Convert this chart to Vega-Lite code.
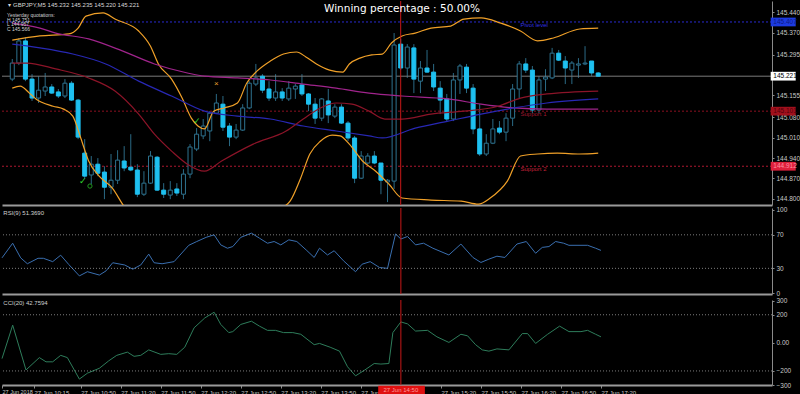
{
"$schema": "https://vega.github.io/schema/vega-lite/v6.json",
"background": "#000000",
"padding": 0,
"spacing": 0,
"config": {
  "view": {"stroke": null},
  "axis": {"labelFont": "Liberation Sans", "labelFontSize": 6.5, "labelColor": "#c8c8c8", "tickColor": "#8a8a8a", "domainColor": "#8a8a8a", "grid": false, "title": null, "labelOverlap": false, "labelFlush": false},
  "text": {"font": "Liberation Sans"}
},
"datasets": {
  "candles": [
    {"t":"2018-06-27T09:55:00Z","o":145.211,"h":145.280,"l":145.204,"c":145.266},
    {"t":"2018-06-27T10:00:00Z","o":145.266,"h":145.352,"l":145.259,"c":145.342},
    {"t":"2018-06-27T10:05:00Z","o":145.342,"h":145.355,"l":145.204,"c":145.211},
    {"t":"2018-06-27T10:10:00Z","o":145.211,"h":145.228,"l":145.136,"c":145.146},
    {"t":"2018-06-27T10:15:00Z","o":145.146,"h":145.221,"l":145.129,"c":145.173},
    {"t":"2018-06-27T10:20:00Z","o":145.170,"h":145.232,"l":145.153,"c":145.184},
    {"t":"2018-06-27T10:25:00Z","o":145.184,"h":145.194,"l":145.160,"c":145.163},
    {"t":"2018-06-27T10:30:00Z","o":145.167,"h":145.177,"l":145.146,"c":145.153},
    {"t":"2018-06-27T10:35:00Z","o":145.153,"h":145.211,"l":145.146,"c":145.197},
    {"t":"2018-06-27T10:40:00Z","o":145.197,"h":145.204,"l":145.136,"c":145.139},
    {"t":"2018-06-27T10:45:00Z","o":145.139,"h":145.143,"l":145.005,"c":145.012},
    {"t":"2018-06-27T10:50:00Z","o":144.957,"h":145.005,"l":144.868,"c":144.878},
    {"t":"2018-06-27T10:55:00Z","o":144.882,"h":144.947,"l":144.851,"c":144.919},
    {"t":"2018-06-27T11:00:00Z","o":144.919,"h":144.940,"l":144.878,"c":144.888},
    {"t":"2018-06-27T11:05:00Z","o":144.892,"h":144.912,"l":144.799,"c":144.840},
    {"t":"2018-06-27T11:10:00Z","o":144.840,"h":144.954,"l":144.816,"c":144.864},
    {"t":"2018-06-27T11:15:00Z","o":144.864,"h":144.967,"l":144.851,"c":144.933},
    {"t":"2018-06-27T11:20:00Z","o":144.930,"h":144.981,"l":144.895,"c":144.906},
    {"t":"2018-06-27T11:25:00Z","o":144.909,"h":145.022,"l":144.895,"c":144.899},
    {"t":"2018-06-27T11:30:00Z","o":144.899,"h":144.919,"l":144.806,"c":144.816},
    {"t":"2018-06-27T11:35:00Z","o":144.816,"h":144.895,"l":144.810,"c":144.854},
    {"t":"2018-06-27T11:40:00Z","o":144.854,"h":144.964,"l":144.851,"c":144.947},
    {"t":"2018-06-27T11:45:00Z","o":144.943,"h":144.947,"l":144.827,"c":144.830},
    {"t":"2018-06-27T11:50:00Z","o":144.830,"h":144.854,"l":144.803,"c":144.816},
    {"t":"2018-06-27T11:55:00Z","o":144.813,"h":144.861,"l":144.799,"c":144.830},
    {"t":"2018-06-27T12:00:00Z","o":144.834,"h":144.854,"l":144.810,"c":144.820},
    {"t":"2018-06-27T12:05:00Z","o":144.816,"h":144.902,"l":144.799,"c":144.885},
    {"t":"2018-06-27T12:10:00Z","o":144.885,"h":144.988,"l":144.871,"c":144.978},
    {"t":"2018-06-27T12:15:00Z","o":144.971,"h":145.043,"l":144.964,"c":145.022},
    {"t":"2018-06-27T12:20:00Z","o":145.016,"h":145.074,"l":145.005,"c":145.050},
    {"t":"2018-06-27T12:25:00Z","o":145.033,"h":145.101,"l":144.998,"c":145.094},
    {"t":"2018-06-27T12:30:00Z","o":145.094,"h":145.160,"l":145.091,"c":145.129},
    {"t":"2018-06-27T12:35:00Z","o":145.125,"h":145.153,"l":145.033,"c":145.046},
    {"t":"2018-06-27T12:40:00Z","o":145.050,"h":145.060,"l":144.981,"c":145.012},
    {"t":"2018-06-27T12:45:00Z","o":145.012,"h":145.057,"l":145.005,"c":145.036},
    {"t":"2018-06-27T12:50:00Z","o":145.036,"h":145.125,"l":145.033,"c":145.112},
    {"t":"2018-06-27T12:55:00Z","o":145.112,"h":145.204,"l":145.108,"c":145.197},
    {"t":"2018-06-27T13:00:00Z","o":145.194,"h":145.263,"l":145.187,"c":145.215},
    {"t":"2018-06-27T13:05:00Z","o":145.221,"h":145.228,"l":145.163,"c":145.173},
    {"t":"2018-06-27T13:10:00Z","o":145.177,"h":145.204,"l":145.136,"c":145.146},
    {"t":"2018-06-27T13:15:00Z","o":145.146,"h":145.228,"l":145.136,"c":145.167},
    {"t":"2018-06-27T13:20:00Z","o":145.167,"h":145.180,"l":145.136,"c":145.146},
    {"t":"2018-06-27T13:25:00Z","o":145.143,"h":145.204,"l":145.136,"c":145.180},
    {"t":"2018-06-27T13:30:00Z","o":145.177,"h":145.194,"l":145.143,"c":145.187},
    {"t":"2018-06-27T13:35:00Z","o":145.191,"h":145.228,"l":145.153,"c":145.160},
    {"t":"2018-06-27T13:40:00Z","o":145.160,"h":145.163,"l":145.101,"c":145.125},
    {"t":"2018-06-27T13:45:00Z","o":145.125,"h":145.146,"l":145.057,"c":145.077},
    {"t":"2018-06-27T13:50:00Z","o":145.077,"h":145.146,"l":145.067,"c":145.143},
    {"t":"2018-06-27T13:55:00Z","o":145.136,"h":145.177,"l":145.060,"c":145.088},
    {"t":"2018-06-27T14:00:00Z","o":145.084,"h":145.125,"l":145.077,"c":145.115},
    {"t":"2018-06-27T14:05:00Z","o":145.115,"h":145.125,"l":145.057,"c":145.060},
    {"t":"2018-06-27T14:10:00Z","o":145.060,"h":145.067,"l":144.998,"c":145.009},
    {"t":"2018-06-27T14:15:00Z","o":145.009,"h":145.016,"l":144.854,"c":144.871},
    {"t":"2018-06-27T14:20:00Z","o":144.871,"h":144.964,"l":144.868,"c":144.947},
    {"t":"2018-06-27T14:25:00Z","o":144.923,"h":144.957,"l":144.919,"c":144.947},
    {"t":"2018-06-27T14:30:00Z","o":144.947,"h":144.964,"l":144.919,"c":144.923},
    {"t":"2018-06-27T14:35:00Z","o":144.923,"h":144.923,"l":144.816,"c":144.864},
    {"t":"2018-06-27T14:40:00Z","o":144.858,"h":144.868,"l":144.789,"c":144.864},
    {"t":"2018-06-27T14:45:00Z","o":144.861,"h":145.369,"l":144.834,"c":145.328},
    {"t":"2018-06-27T14:50:00Z","o":145.331,"h":145.349,"l":145.242,"c":145.249},
    {"t":"2018-06-27T14:55:00Z","o":145.249,"h":145.331,"l":145.215,"c":145.321},
    {"t":"2018-06-27T15:00:00Z","o":145.318,"h":145.331,"l":145.163,"c":145.211},
    {"t":"2018-06-27T15:05:00Z","o":145.204,"h":145.273,"l":145.163,"c":145.249},
    {"t":"2018-06-27T15:10:00Z","o":145.249,"h":145.311,"l":145.232,"c":145.235},
    {"t":"2018-06-27T15:15:00Z","o":145.235,"h":145.263,"l":145.170,"c":145.184},
    {"t":"2018-06-27T15:20:00Z","o":145.180,"h":145.204,"l":145.091,"c":145.139},
    {"t":"2018-06-27T15:25:00Z","o":145.143,"h":145.160,"l":145.067,"c":145.074},
    {"t":"2018-06-27T15:30:00Z","o":145.074,"h":145.232,"l":145.067,"c":145.208},
    {"t":"2018-06-27T15:35:00Z","o":145.208,"h":145.263,"l":145.160,"c":145.256},
    {"t":"2018-06-27T15:40:00Z","o":145.252,"h":145.263,"l":145.163,"c":145.180},
    {"t":"2018-06-27T15:45:00Z","o":145.180,"h":145.194,"l":145.022,"c":145.040},
    {"t":"2018-06-27T15:50:00Z","o":145.040,"h":145.125,"l":144.947,"c":144.954},
    {"t":"2018-06-27T15:55:00Z","o":144.954,"h":145.022,"l":144.947,"c":144.991},
    {"t":"2018-06-27T16:00:00Z","o":144.991,"h":145.074,"l":144.988,"c":145.040},
    {"t":"2018-06-27T16:05:00Z","o":145.043,"h":145.067,"l":145.022,"c":145.029},
    {"t":"2018-06-27T16:10:00Z","o":145.029,"h":145.094,"l":144.998,"c":145.077},
    {"t":"2018-06-27T16:15:00Z","o":145.077,"h":145.194,"l":145.050,"c":145.177},
    {"t":"2018-06-27T16:20:00Z","o":145.177,"h":145.273,"l":145.146,"c":145.263},
    {"t":"2018-06-27T16:25:00Z","o":145.263,"h":145.283,"l":145.232,"c":145.242},
    {"t":"2018-06-27T16:30:00Z","o":145.242,"h":145.256,"l":145.094,"c":145.105},
    {"t":"2018-06-27T16:35:00Z","o":145.105,"h":145.221,"l":145.094,"c":145.208},
    {"t":"2018-06-27T16:40:00Z","o":145.211,"h":145.245,"l":145.170,"c":145.218},
    {"t":"2018-06-27T16:45:00Z","o":145.215,"h":145.318,"l":145.211,"c":145.300},
    {"t":"2018-06-27T16:50:00Z","o":145.300,"h":145.311,"l":145.273,"c":145.276},
    {"t":"2018-06-27T16:55:00Z","o":145.273,"h":145.290,"l":145.194,"c":145.249},
    {"t":"2018-06-27T17:00:00Z","o":145.242,"h":145.273,"l":145.194,"c":145.266},
    {"t":"2018-06-27T17:05:00Z","o":145.259,"h":145.283,"l":145.215,"c":145.263},
    {"t":"2018-06-27T17:10:00Z","o":145.263,"h":145.324,"l":145.259,"c":145.266},
    {"t":"2018-06-27T17:15:00Z","o":145.273,"h":145.273,"l":145.221,"c":145.232},
    {"t":"2018-06-27T17:20:00Z","o":145.232,"h":145.235,"l":145.220,"c":145.221}
  ],
  "ind": [
    {"s":"BB upper","t":"2018-06-27T09:55:00Z","v":145.345},
    {"s":"BB upper","t":"2018-06-27T10:16:00Z","v":145.359},
    {"s":"BB upper","t":"2018-06-27T10:38:00Z","v":145.366},
    {"s":"BB upper","t":"2018-06-27T10:45:00Z","v":145.386},
    {"s":"BB upper","t":"2018-06-27T10:51:00Z","v":145.427},
    {"s":"BB upper","t":"2018-06-27T11:04:00Z","v":145.438},
    {"s":"BB upper","t":"2018-06-27T11:13:00Z","v":145.417},
    {"s":"BB upper","t":"2018-06-27T11:31:00Z","v":145.376},
    {"s":"BB upper","t":"2018-06-27T11:40:00Z","v":145.324},
    {"s":"BB upper","t":"2018-06-27T11:46:00Z","v":145.263},
    {"s":"BB upper","t":"2018-06-27T11:56:00Z","v":145.211},
    {"s":"BB upper","t":"2018-06-27T12:04:00Z","v":145.146},
    {"s":"BB upper","t":"2018-06-27T12:11:00Z","v":145.077},
    {"s":"BB upper","t":"2018-06-27T12:16:00Z","v":145.050},
    {"s":"BB upper","t":"2018-06-27T12:21:00Z","v":145.040},
    {"s":"BB upper","t":"2018-06-27T12:28:00Z","v":145.101},
    {"s":"BB upper","t":"2018-06-27T12:36:00Z","v":145.112},
    {"s":"BB upper","t":"2018-06-27T12:46:00Z","v":145.129},
    {"s":"BB upper","t":"2018-06-27T12:53:00Z","v":145.197},
    {"s":"BB upper","t":"2018-06-27T13:01:00Z","v":145.239},
    {"s":"BB upper","t":"2018-06-27T13:11:00Z","v":145.273},
    {"s":"BB upper","t":"2018-06-27T13:21:00Z","v":145.297},
    {"s":"BB upper","t":"2018-06-27T13:31:00Z","v":145.304},
    {"s":"BB upper","t":"2018-06-27T13:38:00Z","v":145.287},
    {"s":"BB upper","t":"2018-06-27T13:46:00Z","v":145.263},
    {"s":"BB upper","t":"2018-06-27T13:56:00Z","v":145.242},
    {"s":"BB upper","t":"2018-06-27T14:06:00Z","v":145.235},
    {"s":"BB upper","t":"2018-06-27T14:11:00Z","v":145.263},
    {"s":"BB upper","t":"2018-06-27T14:19:00Z","v":145.283},
    {"s":"BB upper","t":"2018-06-27T14:28:00Z","v":145.294},
    {"s":"BB upper","t":"2018-06-27T14:36:00Z","v":145.297},
    {"s":"BB upper","t":"2018-06-27T14:43:00Z","v":145.335},
    {"s":"BB upper","t":"2018-06-27T14:51:00Z","v":145.359},
    {"s":"BB upper","t":"2018-06-27T15:01:00Z","v":145.369},
    {"s":"BB upper","t":"2018-06-27T15:13:00Z","v":145.386},
    {"s":"BB upper","t":"2018-06-27T15:28:00Z","v":145.393},
    {"s":"BB upper","t":"2018-06-27T15:38:00Z","v":145.417},
    {"s":"BB upper","t":"2018-06-27T15:51:00Z","v":145.421},
    {"s":"BB upper","t":"2018-06-27T16:06:00Z","v":145.403},
    {"s":"BB upper","t":"2018-06-27T16:21:00Z","v":145.376},
    {"s":"BB upper","t":"2018-06-27T16:34:00Z","v":145.342},
    {"s":"BB upper","t":"2018-06-27T16:46:00Z","v":145.352},
    {"s":"BB upper","t":"2018-06-27T17:06:00Z","v":145.383},
    {"s":"BB upper","t":"2018-06-27T17:20:00Z","v":145.386},
    {"s":"BB lower","t":"2018-06-27T09:55:00Z","v":145.180},
    {"s":"BB lower","t":"2018-06-27T10:01:00Z","v":145.187},
    {"s":"BB lower","t":"2018-06-27T10:08:00Z","v":145.163},
    {"s":"BB lower","t":"2018-06-27T10:13:00Z","v":145.143},
    {"s":"BB lower","t":"2018-06-27T10:26:00Z","v":145.118},
    {"s":"BB lower","t":"2018-06-27T10:34:00Z","v":145.108},
    {"s":"BB lower","t":"2018-06-27T10:41:00Z","v":145.084},
    {"s":"BB lower","t":"2018-06-27T10:47:00Z","v":145.009},
    {"s":"BB lower","t":"2018-06-27T10:53:00Z","v":144.930},
    {"s":"BB lower","t":"2018-06-27T11:01:00Z","v":144.878},
    {"s":"BB lower","t":"2018-06-27T11:11:00Z","v":144.837},
    {"s":"BB lower","t":"2018-06-27T11:21:00Z","v":144.768},
    {"s":"BB lower","t":"2018-06-27T11:28:00Z","v":144.741},
    {"s":"BB lower","t":"2018-06-27T11:51:00Z","v":144.706},
    {"s":"BB lower","t":"2018-06-27T12:21:00Z","v":144.696},
    {"s":"BB lower","t":"2018-06-27T12:51:00Z","v":144.717},
    {"s":"BB lower","t":"2018-06-27T13:10:00Z","v":144.751},
    {"s":"BB lower","t":"2018-06-27T13:19:00Z","v":144.768},
    {"s":"BB lower","t":"2018-06-27T13:26:00Z","v":144.792},
    {"s":"BB lower","t":"2018-06-27T13:34:00Z","v":144.871},
    {"s":"BB lower","t":"2018-06-27T13:41:00Z","v":144.954},
    {"s":"BB lower","t":"2018-06-27T13:49:00Z","v":144.998},
    {"s":"BB lower","t":"2018-06-27T13:58:00Z","v":145.019},
    {"s":"BB lower","t":"2018-06-27T14:04:00Z","v":145.016},
    {"s":"BB lower","t":"2018-06-27T14:11:00Z","v":144.988},
    {"s":"BB lower","t":"2018-06-27T14:21:00Z","v":144.930},
    {"s":"BB lower","t":"2018-06-27T14:31:00Z","v":144.895},
    {"s":"BB lower","t":"2018-06-27T14:41:00Z","v":144.851},
    {"s":"BB lower","t":"2018-06-27T14:51:00Z","v":144.803},
    {"s":"BB lower","t":"2018-06-27T15:13:00Z","v":144.796},
    {"s":"BB lower","t":"2018-06-27T15:36:00Z","v":144.792},
    {"s":"BB lower","t":"2018-06-27T15:49:00Z","v":144.782},
    {"s":"BB lower","t":"2018-06-27T15:58:00Z","v":144.803},
    {"s":"BB lower","t":"2018-06-27T16:11:00Z","v":144.861},
    {"s":"BB lower","t":"2018-06-27T16:21:00Z","v":144.947},
    {"s":"BB lower","t":"2018-06-27T16:34:00Z","v":144.954},
    {"s":"BB lower","t":"2018-06-27T16:49:00Z","v":144.957},
    {"s":"BB lower","t":"2018-06-27T17:06:00Z","v":144.954},
    {"s":"BB lower","t":"2018-06-27T17:20:00Z","v":144.957},
    {"s":"MA 1","t":"2018-06-27T09:55:00Z","v":145.403},
    {"s":"MA 1","t":"2018-06-27T10:16:00Z","v":145.386},
    {"s":"MA 1","t":"2018-06-27T10:28:00Z","v":145.369},
    {"s":"MA 1","t":"2018-06-27T10:53:00Z","v":145.349},
    {"s":"MA 1","t":"2018-06-27T11:19:00Z","v":145.307},
    {"s":"MA 1","t":"2018-06-27T11:43:00Z","v":145.263},
    {"s":"MA 1","t":"2018-06-27T12:08:00Z","v":145.232},
    {"s":"MA 1","t":"2018-06-27T12:21:00Z","v":145.221},
    {"s":"MA 1","t":"2018-06-27T12:46:00Z","v":145.215},
    {"s":"MA 1","t":"2018-06-27T13:11:00Z","v":145.208},
    {"s":"MA 1","t":"2018-06-27T13:36:00Z","v":145.194},
    {"s":"MA 1","t":"2018-06-27T14:01:00Z","v":145.180},
    {"s":"MA 1","t":"2018-06-27T14:26:00Z","v":145.163},
    {"s":"MA 1","t":"2018-06-27T14:51:00Z","v":145.153},
    {"s":"MA 1","t":"2018-06-27T15:26:00Z","v":145.143},
    {"s":"MA 1","t":"2018-06-27T15:51:00Z","v":145.125},
    {"s":"MA 1","t":"2018-06-27T16:16:00Z","v":145.112},
    {"s":"MA 1","t":"2018-06-27T16:41:00Z","v":145.108},
    {"s":"MA 1","t":"2018-06-27T17:20:00Z","v":145.108},
    {"s":"MA 2","t":"2018-06-27T09:55:00Z","v":145.331},
    {"s":"MA 2","t":"2018-06-27T10:16:00Z","v":145.318},
    {"s":"MA 2","t":"2018-06-27T10:41:00Z","v":145.297},
    {"s":"MA 2","t":"2018-06-27T11:06:00Z","v":145.263},
    {"s":"MA 2","t":"2018-06-27T11:31:00Z","v":145.204},
    {"s":"MA 2","t":"2018-06-27T11:56:00Z","v":145.153},
    {"s":"MA 2","t":"2018-06-27T12:21:00Z","v":145.101},
    {"s":"MA 2","t":"2018-06-27T12:46:00Z","v":145.084},
    {"s":"MA 2","t":"2018-06-27T13:11:00Z","v":145.074},
    {"s":"MA 2","t":"2018-06-27T13:36:00Z","v":145.050},
    {"s":"MA 2","t":"2018-06-27T14:01:00Z","v":145.033},
    {"s":"MA 2","t":"2018-06-27T14:26:00Z","v":145.016},
    {"s":"MA 2","t":"2018-06-27T14:36:00Z","v":145.009},
    {"s":"MA 2","t":"2018-06-27T15:01:00Z","v":145.043},
    {"s":"MA 2","t":"2018-06-27T15:26:00Z","v":145.067},
    {"s":"MA 2","t":"2018-06-27T15:51:00Z","v":145.091},
    {"s":"MA 2","t":"2018-06-27T16:16:00Z","v":145.112},
    {"s":"MA 2","t":"2018-06-27T16:41:00Z","v":145.129},
    {"s":"MA 2","t":"2018-06-27T17:20:00Z","v":145.143},
    {"s":"MA 3","t":"2018-06-27T09:55:00Z","v":145.266},
    {"s":"MA 3","t":"2018-06-27T10:06:00Z","v":145.266},
    {"s":"MA 3","t":"2018-06-27T10:28:00Z","v":145.246},
    {"s":"MA 3","t":"2018-06-27T10:53:00Z","v":145.215},
    {"s":"MA 3","t":"2018-06-27T11:13:00Z","v":145.170},
    {"s":"MA 3","t":"2018-06-27T11:31:00Z","v":145.091},
    {"s":"MA 3","t":"2018-06-27T11:43:00Z","v":145.022},
    {"s":"MA 3","t":"2018-06-27T11:56:00Z","v":144.964},
    {"s":"MA 3","t":"2018-06-27T12:08:00Z","v":144.919},
    {"s":"MA 3","t":"2018-06-27T12:21:00Z","v":144.895},
    {"s":"MA 3","t":"2018-06-27T12:34:00Z","v":144.930},
    {"s":"MA 3","t":"2018-06-27T12:58:00Z","v":144.988},
    {"s":"MA 3","t":"2018-06-27T13:23:00Z","v":145.033},
    {"s":"MA 3","t":"2018-06-27T13:36:00Z","v":145.074},
    {"s":"MA 3","t":"2018-06-27T13:49:00Z","v":145.112},
    {"s":"MA 3","t":"2018-06-27T14:01:00Z","v":145.129},
    {"s":"MA 3","t":"2018-06-27T14:13:00Z","v":145.125},
    {"s":"MA 3","t":"2018-06-27T14:26:00Z","v":145.101},
    {"s":"MA 3","t":"2018-06-27T14:38:00Z","v":145.074},
    {"s":"MA 3","t":"2018-06-27T14:51:00Z","v":145.074},
    {"s":"MA 3","t":"2018-06-27T15:13:00Z","v":145.091},
    {"s":"MA 3","t":"2018-06-27T15:38:00Z","v":145.101},
    {"s":"MA 3","t":"2018-06-27T16:04:00Z","v":145.118},
    {"s":"MA 3","t":"2018-06-27T16:21:00Z","v":145.146},
    {"s":"MA 3","t":"2018-06-27T16:41:00Z","v":145.160},
    {"s":"MA 3","t":"2018-06-27T17:20:00Z","v":145.170}
  ],
  "rsi": [
    {"t":"2018-06-27T09:51:00Z","v":42.5},{"t":"2018-06-27T09:59:00Z","v":60},{"t":"2018-06-27T10:05:00Z","v":42.5},
    {"t":"2018-06-27T10:10:00Z","v":35.5},{"t":"2018-06-27T10:18:00Z","v":42},{"t":"2018-06-27T10:22:00Z","v":42},
    {"t":"2018-06-27T10:29:00Z","v":38},{"t":"2018-06-27T10:35:00Z","v":45.7},{"t":"2018-06-27T10:41:00Z","v":34.7},
    {"t":"2018-06-27T10:49:00Z","v":21},{"t":"2018-06-27T10:55:00Z","v":26},{"t":"2018-06-27T11:04:00Z","v":22},
    {"t":"2018-06-27T11:09:00Z","v":27},{"t":"2018-06-27T11:14:00Z","v":36.7},{"t":"2018-06-27T11:23:00Z","v":34},
    {"t":"2018-06-27T11:29:00Z","v":29},{"t":"2018-06-27T11:35:00Z","v":34},{"t":"2018-06-27T11:41:00Z","v":47},
    {"t":"2018-06-27T11:45:00Z","v":36.7},{"t":"2018-06-27T11:51:00Z","v":35.5},{"t":"2018-06-27T12:00:00Z","v":38},
    {"t":"2018-06-27T12:11:00Z","v":57.5},{"t":"2018-06-27T12:17:00Z","v":62},{"t":"2018-06-27T12:24:00Z","v":67},
    {"t":"2018-06-27T12:30:00Z","v":70},{"t":"2018-06-27T12:35:00Z","v":58},{"t":"2018-06-27T12:40:00Z","v":54},
    {"t":"2018-06-27T12:44:00Z","v":56},{"t":"2018-06-27T12:50:00Z","v":67},{"t":"2018-06-27T12:58:00Z","v":72},
    {"t":"2018-06-27T13:04:00Z","v":66},{"t":"2018-06-27T13:10:00Z","v":60},{"t":"2018-06-27T13:15:00Z","v":62},
    {"t":"2018-06-27T13:20:00Z","v":58},{"t":"2018-06-27T13:26:00Z","v":64},{"t":"2018-06-27T13:32:00Z","v":62},
    {"t":"2018-06-27T13:39:00Z","v":52},{"t":"2018-06-27T13:45:00Z","v":43},{"t":"2018-06-27T13:49:00Z","v":54},
    {"t":"2018-06-27T13:55:00Z","v":46},{"t":"2018-06-27T14:00:00Z","v":51},{"t":"2018-06-27T14:07:00Z","v":39},
    {"t":"2018-06-27T14:16:00Z","v":26},{"t":"2018-06-27T14:21:00Z","v":35},{"t":"2018-06-27T14:27:00Z","v":38},
    {"t":"2018-06-27T14:34:00Z","v":31},{"t":"2018-06-27T14:40:00Z","v":30},{"t":"2018-06-27T14:46:00Z","v":71},
    {"t":"2018-06-27T14:50:00Z","v":65},{"t":"2018-06-27T14:55:00Z","v":68},{"t":"2018-06-27T15:01:00Z","v":58},
    {"t":"2018-06-27T15:07:00Z","v":60},{"t":"2018-06-27T15:14:00Z","v":54},{"t":"2018-06-27T15:26:00Z","v":46},
    {"t":"2018-06-27T15:35:00Z","v":59},{"t":"2018-06-27T15:44:00Z","v":43},{"t":"2018-06-27T15:50:00Z","v":37},
    {"t":"2018-06-27T15:56:00Z","v":41},{"t":"2018-06-27T16:02:00Z","v":44.5},{"t":"2018-06-27T16:08:00Z","v":43},
    {"t":"2018-06-27T16:17:00Z","v":59},{"t":"2018-06-27T16:24:00Z","v":62},{"t":"2018-06-27T16:31:00Z","v":48},
    {"t":"2018-06-27T16:36:00Z","v":55},{"t":"2018-06-27T16:41:00Z","v":56},{"t":"2018-06-27T16:46:00Z","v":62},
    {"t":"2018-06-27T16:52:00Z","v":60},{"t":"2018-06-27T16:56:00Z","v":57.5},{"t":"2018-06-27T17:10:00Z","v":57.5},
    {"t":"2018-06-27T17:16:00Z","v":54},{"t":"2018-06-27T17:20:00Z","v":51.4}
  ],
  "cci": [
    {"t":"2018-06-27T09:51:00Z","v":-112},{"t":"2018-06-27T09:59:00Z","v":126},{"t":"2018-06-27T10:09:00Z","v":-193},
    {"t":"2018-06-27T10:19:00Z","v":-105},{"t":"2018-06-27T10:24:00Z","v":-135},{"t":"2018-06-27T10:29:00Z","v":-135},
    {"t":"2018-06-27T10:35:00Z","v":-89},{"t":"2018-06-27T10:40:00Z","v":-105},{"t":"2018-06-27T10:49:00Z","v":-258},
    {"t":"2018-06-27T10:55:00Z","v":-216},{"t":"2018-06-27T11:04:00Z","v":-181},{"t":"2018-06-27T11:11:00Z","v":-128},
    {"t":"2018-06-27T11:17:00Z","v":-89},{"t":"2018-06-27T11:25:00Z","v":-66},{"t":"2018-06-27T11:30:00Z","v":-96},
    {"t":"2018-06-27T11:35:00Z","v":-89},{"t":"2018-06-27T11:41:00Z","v":-50},{"t":"2018-06-27T11:50:00Z","v":-82},
    {"t":"2018-06-27T11:56:00Z","v":-77},{"t":"2018-06-27T12:02:00Z","v":-82},{"t":"2018-06-27T12:08:00Z","v":-31},
    {"t":"2018-06-27T12:15:00Z","v":107},{"t":"2018-06-27T12:23:00Z","v":177},{"t":"2018-06-27T12:30:00Z","v":218},
    {"t":"2018-06-27T12:35:00Z","v":131},{"t":"2018-06-27T12:41:00Z","v":73},{"t":"2018-06-27T12:44:00Z","v":80},
    {"t":"2018-06-27T12:50:00Z","v":131},{"t":"2018-06-27T12:58:00Z","v":154},{"t":"2018-06-27T13:04:00Z","v":119},
    {"t":"2018-06-27T13:10:00Z","v":89},{"t":"2018-06-27T13:16:00Z","v":89},{"t":"2018-06-27T13:22:00Z","v":73},
    {"t":"2018-06-27T13:29:00Z","v":73},{"t":"2018-06-27T13:35:00Z","v":61},{"t":"2018-06-27T13:45:00Z","v":-13},
    {"t":"2018-06-27T13:49:00Z","v":-4},{"t":"2018-06-27T13:57:00Z","v":-31},{"t":"2018-06-27T14:04:00Z","v":-59},
    {"t":"2018-06-27T14:10:00Z","v":-170},{"t":"2018-06-27T14:16:00Z","v":-235},{"t":"2018-06-27T14:23:00Z","v":-193},
    {"t":"2018-06-27T14:30:00Z","v":-147},{"t":"2018-06-27T14:35:00Z","v":-151},{"t":"2018-06-27T14:41:00Z","v":-147},
    {"t":"2018-06-27T14:44:00Z","v":73},{"t":"2018-06-27T14:50:00Z","v":149},{"t":"2018-06-27T14:55:00Z","v":135},
    {"t":"2018-06-27T15:01:00Z","v":84},{"t":"2018-06-27T15:10:00Z","v":89},{"t":"2018-06-27T15:17:00Z","v":43},
    {"t":"2018-06-27T15:26:00Z","v":3},{"t":"2018-06-27T15:35:00Z","v":61},{"t":"2018-06-27T15:40:00Z","v":50},
    {"t":"2018-06-27T15:46:00Z","v":-13},{"t":"2018-06-27T15:51:00Z","v":-50},{"t":"2018-06-27T15:56:00Z","v":-59},
    {"t":"2018-06-27T16:02:00Z","v":-43},{"t":"2018-06-27T16:11:00Z","v":-50},{"t":"2018-06-27T16:21:00Z","v":66},
    {"t":"2018-06-27T16:25:00Z","v":66},{"t":"2018-06-27T16:31:00Z","v":-4},{"t":"2018-06-27T16:40:00Z","v":61},
    {"t":"2018-06-27T16:49:00Z","v":119},{"t":"2018-06-27T16:56:00Z","v":80},{"t":"2018-06-27T17:05:00Z","v":80},
    {"t":"2018-06-27T17:10:00Z","v":89},{"t":"2018-06-27T17:16:00Z","v":61},{"t":"2018-06-27T17:20:00Z","v":42.8}
  ]
},
"vconcat": [
  {
    "width": 770, "height": 204,
    "data": {"values": [{}]},
    "resolve": {"axis": {"x": "independent", "y": "independent"}},
    "layer": [
      {"data": {"name": "candles"}, "mark": {"type": "rule", "color": "#2b6a85", "strokeWidth": 1},
       "encoding": {
         "x": {"field": "t", "type": "temporal", "scale": {"type": "utc", "domain": [{"year":2018,"month":6,"date":27,"hours":9,"minutes":51,"utc":true},{"year":2018,"month":6,"date":27,"hours":19,"minutes":28,"seconds":12,"utc":true}]},
               "axis": {"orient": "bottom", "labels": false, "ticks": false, "domainWidth": 2, "domainColor": "#9a9a9a"}},
         "y": {"field": "l", "type": "quantitative", "scale": {"domain": [144.779, 145.479], "zero": false, "nice": false},
               "axis": {"orient": "right", "values": [144.8, 144.87, 144.94, 145.01, 145.08, 145.155, 145.295, 145.37, 145.44], "format": ".3f", "tickSize": 2, "labelPadding": 2, "labelOverlap": false}},
         "y2": {"field": "h"}
       }},
      {"mark": {"type": "rule", "color": "#2a2ad0", "strokeDash": [2, 2]}, "encoding": {"y": {"datum": 145.407, "axis": null}}},
      {"mark": {"type": "rule", "color": "#8c1020", "strokeDash": [2, 2]}, "encoding": {"y": {"datum": 145.101, "axis": null}}},
      {"mark": {"type": "rule", "color": "#b01830", "strokeDash": [2, 2]}, "encoding": {"y": {"datum": 144.912, "axis": null}}},
      {"mark": {"type": "rule", "color": "#7a7a7a"}, "encoding": {"y": {"datum": 145.221, "axis": null}}},
      {"data": {"name": "candles"}, "mark": {"type": "bar", "size": 4, "strokeWidth": 1},
       "encoding": {
         "x": {"field": "t", "type": "temporal", "axis": null},
         "y": {"field": "o", "type": "quantitative", "axis": null},
         "y2": {"field": "c"},
         "fill": {"condition": {"test": "datum.c < datum.o", "value": "#1ec0f0"}, "value": "#000000"},
         "stroke": {"condition": {"test": "datum.c < datum.o", "value": "#1ec0f0"}, "value": "#2e7390"}
       }},
      {"data": {"name": "ind"}, "mark": {"type": "line", "strokeWidth": 1.2, "interpolate": "monotone", "clip": true},
       "encoding": {
         "x": {"field": "t", "type": "temporal", "axis": null},
         "y": {"field": "v", "type": "quantitative", "axis": null},
         "color": {"field": "s", "type": "nominal", "legend": null,
                   "scale": {"domain": ["BB upper", "BB lower", "MA 1", "MA 2", "MA 3"], "range": ["#f0a028", "#f0a028", "#a0248c", "#2828b4", "#8c1428"]}}
       }},
      {"mark": {"type": "rule", "color": "#c81818", "strokeWidth": 1}, "encoding": {"x": {"datum": {"year":2018,"month":6,"date":27,"hours":14,"minutes":50,"utc":true}, "type": "temporal", "axis": null}}},
      {"mark": {"type": "text", "color": "#ffffff", "fontSize": 10.5, "font": "DejaVu Sans", "align": "center", "baseline": "middle"},
       "encoding": {"x": {"datum": {"year":2018,"month":6,"date":27,"hours":14,"minutes":51,"utc":true}, "type": "temporal", "axis": null}, "y": {"datum": 145.452, "axis": null}, "text": {"value": "Winning percentage : 50.00%"}}},
      {"mark": {"type": "text", "color": "#d8d8d8", "fontSize": 6, "align": "left", "baseline": "middle"},
       "encoding": {"x": {"datum": {"year":2018,"month":6,"date":27,"hours":9,"minutes":52,"utc":true}, "type": "temporal", "axis": null}, "y": {"datum": 145.465, "axis": null}, "text": {"value": "▾ GBPJPY,M5  145.232 145.235 145.220 145.221"}}},
      {"mark": {"type": "text", "color": "#d0d0d0", "fontSize": 5, "lineHeight": 4.6, "align": "left", "baseline": "top"},
       "encoding": {"x": {"datum": {"year":2018,"month":6,"date":27,"hours":9,"minutes":51,"utc":true}, "type": "temporal", "axis": null}, "y": {"datum": 145.438, "axis": null}, "text": {"value": ["Yesterday quotations:", "H 145.751", "L 144.957", "C 145.566"]}}},
      {"mark": {"type": "text", "color": "#3030e0", "fontSize": 6, "align": "left", "baseline": "middle"},
       "encoding": {"x": {"datum": {"year":2018,"month":6,"date":27,"hours":16,"minutes":21,"utc":true}, "type": "temporal", "axis": null}, "y": {"datum": 145.397, "axis": null}, "text": {"value": "Pivot level"}}},
      {"mark": {"type": "text", "color": "#a01830", "fontSize": 6, "align": "left", "baseline": "middle"},
       "encoding": {"x": {"datum": {"year":2018,"month":6,"date":27,"hours":16,"minutes":21,"utc":true}, "type": "temporal", "axis": null}, "y": {"datum": 145.091, "axis": null}, "text": {"value": "Support 1"}}},
      {"mark": {"type": "text", "color": "#c02038", "fontSize": 6, "align": "left", "baseline": "middle"},
       "encoding": {"x": {"datum": {"year":2018,"month":6,"date":27,"hours":16,"minutes":21,"utc":true}, "type": "temporal", "axis": null}, "y": {"datum": 144.902, "axis": null}, "text": {"value": "Support 2"}}},
      {"mark": {"type": "text", "color": "#30d830", "fontSize": 9, "align": "center", "baseline": "middle"},
       "encoding": {"x": {"datum": {"year":2018,"month":6,"date":27,"hours":10,"minutes":49,"utc":true}, "type": "temporal", "axis": null}, "y": {"datum": 144.861, "axis": null}, "text": {"value": "✓"}}},
      {"mark": {"type": "point", "shape": "circle", "size": 18, "filled": false, "color": "#30d830", "strokeWidth": 1},
       "encoding": {"x": {"datum": {"year":2018,"month":6,"date":27,"hours":10,"minutes":54,"utc":true}, "type": "temporal", "axis": null}, "y": {"datum": 144.844, "axis": null}}},
      {"mark": {"type": "text", "color": "#30d830", "fontSize": 9, "align": "center", "baseline": "middle"},
       "encoding": {"x": {"datum": {"year":2018,"month":6,"date":27,"hours":12,"minutes":15,"utc":true}, "type": "temporal", "axis": null}, "y": {"datum": 145.067, "axis": null}, "text": {"value": "✓"}}},
      {"mark": {"type": "text", "color": "#e8a030", "fontSize": 8, "align": "center", "baseline": "middle"},
       "encoding": {"x": {"datum": {"year":2018,"month":6,"date":27,"hours":12,"minutes":30,"utc":true}, "type": "temporal", "axis": null}, "y": {"datum": 145.194, "axis": null}, "text": {"value": "×"}}},
      {"mark": {"type": "rect", "color": "#1c3ae0", "clip": false},
       "encoding": {"x": {"datum": {"year":2018,"month":6,"date":27,"hours":19,"minutes":31,"utc":true}, "type": "temporal", "axis": null}, "x2": {"datum": {"year":2018,"month":6,"date":27,"hours":19,"minutes":50,"utc":true}},
                    "y": {"datum": 145.422, "axis": null}, "y2": {"datum": 145.392}}},
      {"mark": {"type": "rect", "color": "#ffffff", "clip": false},
       "encoding": {"x": {"datum": {"year":2018,"month":6,"date":27,"hours":19,"minutes":31,"utc":true}, "type": "temporal", "axis": null}, "x2": {"datum": {"year":2018,"month":6,"date":27,"hours":19,"minutes":50,"utc":true}},
                    "y": {"datum": 145.236, "axis": null}, "y2": {"datum": 145.206}}},
      {"mark": {"type": "rect", "color": "#a0101c", "clip": false},
       "encoding": {"x": {"datum": {"year":2018,"month":6,"date":27,"hours":19,"minutes":31,"utc":true}, "type": "temporal", "axis": null}, "x2": {"datum": {"year":2018,"month":6,"date":27,"hours":19,"minutes":50,"utc":true}},
                    "y": {"datum": 145.116, "axis": null}, "y2": {"datum": 145.086}}},
      {"mark": {"type": "rect", "color": "#e0203c", "clip": false},
       "encoding": {"x": {"datum": {"year":2018,"month":6,"date":27,"hours":19,"minutes":31,"utc":true}, "type": "temporal", "axis": null}, "x2": {"datum": {"year":2018,"month":6,"date":27,"hours":19,"minutes":50,"utc":true}},
                    "y": {"datum": 144.927, "axis": null}, "y2": {"datum": 144.897}}},
      {"mark": {"type": "text", "color": "#0c1a80", "fontSize": 6.5, "align": "left", "baseline": "middle", "clip": false},
       "encoding": {"x": {"datum": {"year":2018,"month":6,"date":27,"hours":19,"minutes":33,"utc":true}, "type": "temporal", "axis": null}, "y": {"datum": 145.407, "axis": null}, "text": {"value": "145.407"}}},
      {"mark": {"type": "text", "color": "#000000", "fontSize": 6.5, "align": "left", "baseline": "middle", "clip": false},
       "encoding": {"x": {"datum": {"year":2018,"month":6,"date":27,"hours":19,"minutes":33,"utc":true}, "type": "temporal", "axis": null}, "y": {"datum": 145.221, "axis": null}, "text": {"value": "145.221"}}},
      {"mark": {"type": "text", "color": "#50000a", "fontSize": 6.5, "align": "left", "baseline": "middle", "clip": false},
       "encoding": {"x": {"datum": {"year":2018,"month":6,"date":27,"hours":19,"minutes":33,"utc":true}, "type": "temporal", "axis": null}, "y": {"datum": 145.101, "axis": null}, "text": {"value": "145.101"}}},
      {"mark": {"type": "text", "color": "#ff90a0", "fontSize": 6.5, "align": "left", "baseline": "middle", "clip": false},
       "encoding": {"x": {"datum": {"year":2018,"month":6,"date":27,"hours":19,"minutes":33,"utc":true}, "type": "temporal", "axis": null}, "y": {"datum": 144.912, "axis": null}, "text": {"value": "144.912"}}}
    ]
  },
  {
    "width": 770, "height": 86,
    "data": {"values": [{}]},
    "resolve": {"axis": {"x": "independent", "y": "independent"}},
    "layer": [
      {"data": {"name": "rsi"}, "mark": {"type": "line", "color": "#3a6fb0", "strokeWidth": 1},
       "encoding": {
         "x": {"field": "t", "type": "temporal", "scale": {"type": "utc", "domain": [{"year":2018,"month":6,"date":27,"hours":9,"minutes":51,"utc":true},{"year":2018,"month":6,"date":27,"hours":19,"minutes":28,"seconds":12,"utc":true}]},
               "axis": {"orient": "bottom", "labels": false, "ticks": false, "domainWidth": 2, "domainColor": "#9a9a9a"}},
         "y": {"field": "v", "type": "quantitative", "scale": {"domain": [-0.6, 102], "zero": false, "nice": false},
               "axis": {"orient": "right", "values": [0, 30, 70, 100], "tickSize": 2, "labelPadding": 2, "labelOverlap": false}}
       }},
      {"mark": {"type": "rule", "color": "#9a9a9a", "strokeDash": [1, 2], "strokeWidth": 0.8}, "encoding": {"y": {"datum": 70, "axis": null}}},
      {"mark": {"type": "rule", "color": "#9a9a9a", "strokeDash": [1, 2], "strokeWidth": 0.8}, "encoding": {"y": {"datum": 30, "axis": null}}},
      {"mark": {"type": "rule", "color": "#c81818", "strokeWidth": 1}, "encoding": {"x": {"datum": {"year":2018,"month":6,"date":27,"hours":14,"minutes":50,"utc":true}, "type": "temporal", "axis": null}}},
      {"mark": {"type": "text", "color": "#d0d0d0", "fontSize": 6, "align": "left", "baseline": "middle"},
       "encoding": {"x": {"datum": {"year":2018,"month":6,"date":27,"hours":9,"minutes":52,"utc":true}, "type": "temporal", "axis": null}, "y": {"datum": 96, "axis": null}, "text": {"value": "RSI(9) 51.3690"}}}
    ]
  },
  {
    "width": 770, "height": 85,
    "data": {"values": [{}]},
    "resolve": {"axis": {"x": "independent", "y": "independent"}},
    "layer": [
      {"data": {"name": "cci"}, "mark": {"type": "line", "color": "#2e7d5b", "strokeWidth": 1},
       "encoding": {
         "x": {"field": "t", "type": "temporal", "scale": {"type": "utc", "domain": [{"year":2018,"month":6,"date":27,"hours":9,"minutes":51,"utc":true},{"year":2018,"month":6,"date":27,"hours":19,"minutes":28,"seconds":12,"utc":true}]},
               "axis": {"orient": "bottom", "domainWidth": 2, "domainColor": "#9a9a9a", "tickSize": 3, "labelPadding": 1, "labelAlign": "left", "labelOverlap": false,
                        "labelFontSize": {"condition": {"test": "utcFormat(datum.value, '%H:%M') == '09:51'", "value": 5.5}, "value": 6},
                        "values": [
                          {"year":2018,"month":6,"date":27,"hours":9,"minutes":51,"utc":true},
                          {"year":2018,"month":6,"date":27,"hours":10,"minutes":15,"utc":true},
                          {"year":2018,"month":6,"date":27,"hours":10,"minutes":50,"utc":true},
                          {"year":2018,"month":6,"date":27,"hours":11,"minutes":20,"utc":true},
                          {"year":2018,"month":6,"date":27,"hours":11,"minutes":50,"utc":true},
                          {"year":2018,"month":6,"date":27,"hours":12,"minutes":20,"utc":true},
                          {"year":2018,"month":6,"date":27,"hours":12,"minutes":50,"utc":true},
                          {"year":2018,"month":6,"date":27,"hours":13,"minutes":20,"utc":true},
                          {"year":2018,"month":6,"date":27,"hours":13,"minutes":50,"utc":true},
                          {"year":2018,"month":6,"date":27,"hours":14,"minutes":20,"utc":true},
                          {"year":2018,"month":6,"date":27,"hours":15,"minutes":20,"utc":true},
                          {"year":2018,"month":6,"date":27,"hours":15,"minutes":50,"utc":true},
                          {"year":2018,"month":6,"date":27,"hours":16,"minutes":20,"utc":true},
                          {"year":2018,"month":6,"date":27,"hours":16,"minutes":50,"utc":true},
                          {"year":2018,"month":6,"date":27,"hours":17,"minutes":20,"utc":true}],
                        "labelExpr": "utcFormat(datum.value, '%H:%M') == '09:51' ? '27 Jun 2018' : utcFormat(datum.value, '%d %b %H:%M')"}},
         "y": {"field": "v", "type": "quantitative", "scale": {"domain": [-300, 305], "zero": false, "nice": false},
               "axis": {"orient": "right", "values": [-300, -200, 0, 200, 300], "tickSize": 2, "labelPadding": 2, "labelOverlap": false, "labelExpr": "datum.value == 0 ? '0.00' : datum.label"}}
       }},
      {"mark": {"type": "rule", "color": "#9a9a9a", "strokeDash": [1, 2], "strokeWidth": 0.8}, "encoding": {"y": {"datum": 200, "axis": null}}},
      {"mark": {"type": "rule", "color": "#9a9a9a", "strokeDash": [1, 2], "strokeWidth": 0.8}, "encoding": {"y": {"datum": -200, "axis": null}}},
      {"mark": {"type": "rule", "color": "#c81818", "strokeWidth": 1}, "encoding": {"x": {"datum": {"year":2018,"month":6,"date":27,"hours":14,"minutes":50,"utc":true}, "type": "temporal", "axis": null}}},
      {"mark": {"type": "text", "color": "#d0d0d0", "fontSize": 6, "align": "left", "baseline": "middle"},
       "encoding": {"x": {"datum": {"year":2018,"month":6,"date":27,"hours":9,"minutes":52,"utc":true}, "type": "temporal", "axis": null}, "y": {"datum": 281, "axis": null}, "text": {"value": "CCI(20) 42.7594"}}},
      {"mark": {"type": "rect", "color": "#e01010", "clip": false},
       "encoding": {"x": {"datum": {"year":2018,"month":6,"date":27,"hours":14,"minutes":33,"utc":true}, "type": "temporal", "axis": null}, "x2": {"datum": {"year":2018,"month":6,"date":27,"hours":15,"minutes":8,"utc":true}},
                    "y": {"datum": -306, "axis": null}, "y2": {"datum": -370}}},
      {"mark": {"type": "text", "color": "#ff9a9a", "fontSize": 6, "align": "center", "baseline": "middle", "clip": false},
       "encoding": {"x": {"datum": {"year":2018,"month":6,"date":27,"hours":14,"minutes":50,"utc":true}, "type": "temporal", "axis": null}, "y": {"datum": -338, "axis": null}, "text": {"value": "27 Jun 14:50"}}}
    ]
  }
]
}
